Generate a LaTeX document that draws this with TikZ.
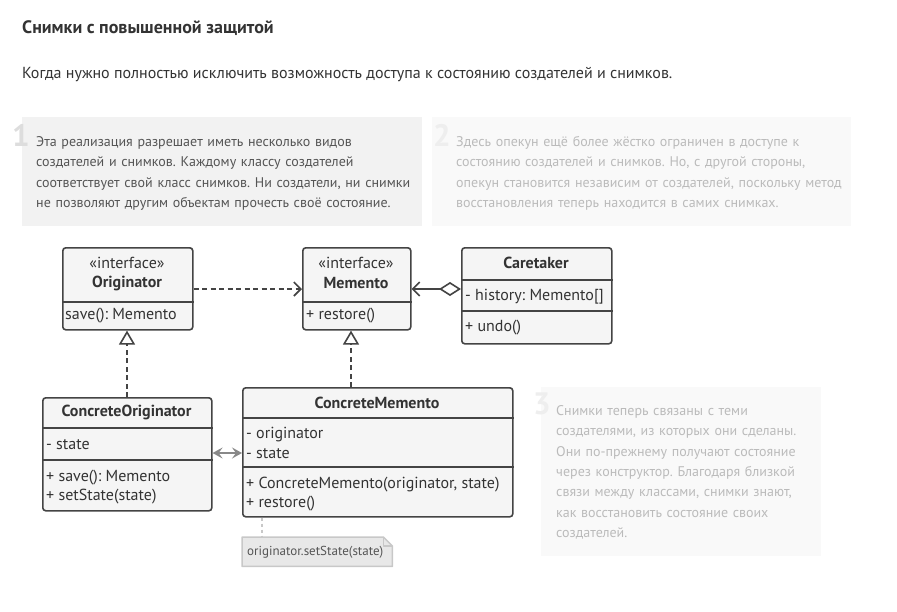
\documentclass[tikz,border=0pt]{standalone}
\usepackage{fontspec}
\setmainfont{PT Sans}
\usetikzlibrary{arrows.meta}
\definecolor{ink}{HTML}{333333}
\definecolor{umlline}{HTML}{444444}
\definecolor{umlfill}{HTML}{F5F5F5}
\definecolor{boxA}{HTML}{F2F2F2}
\definecolor{boxB}{HTML}{F9F9F9}
\definecolor{numA}{HTML}{DDDDDD}
\definecolor{numB}{HTML}{EEEEEE}
\definecolor{txtA}{HTML}{555555}
\definecolor{txtB}{HTML}{BBBBBB}
\definecolor{notefill}{HTML}{E8E8E8}
\definecolor{noteline}{HTML}{C8C8C8}
\definecolor{assoc}{HTML}{888888}
\frenchspacing
\begin{document}
\begin{tikzpicture}[x=1pt,y=-1pt,
  classbox/.style={draw=umlline, fill=umlfill, line width=1.6pt, rounded corners=3pt, inner sep=0pt, anchor=north west},
  sepline/.style={draw=umlline, line width=1.6pt},
  uml/.style={font=\fontsize{16}{19}\selectfont, text=ink, inner sep=0pt},
  umlb/.style={font=\fontsize{16}{19}\selectfont\bfseries, text=ink, inner sep=0pt},
  member/.style={uml, anchor=base west},
  para/.style={inner sep=0pt, anchor=base west, text width=420pt, align=left, font=\fontsize{14}{20.3}\selectfont\frenchspacing},
  bignum/.style={inner sep=0pt, anchor=base west, font=\fontsize{31}{31}\selectfont\bfseries},
  panel/.style={inner sep=0pt, anchor=north west},
  dep/.style={draw=umlline, line width=1.6pt, dash pattern=on 5pt off 3.5pt, -{Straight Barb[length=7pt,width=14pt,line width=1.6pt]}},
  impl/.style={draw=umlline, line width=1.6pt, dash pattern=on 5pt off 3.5pt, -{Triangle[open,length=14pt,width=16pt,line width=1.6pt]}},
  aggr/.style={draw=umlline, line width=1.6pt, {Diamond[open,length=22pt,width=14pt,line width=1.6pt]}-{Straight Barb[length=7pt,width=14pt,line width=1.6pt]}},
  bidir/.style={draw=assoc, line width=2pt, {Stealth[length=10pt,width=11pt,inset=4pt]}-{Stealth[length=10pt,width=11pt,inset=4pt]}},
  notelink/.style={draw=noteline, line width=1.6pt, dash pattern=on 3pt off 3pt}
]
\useasboundingbox (0,0) rectangle (897,611);
\fill[white] (0,0) rectangle (897,611);

% heading
\node[inner sep=0pt, anchor=base west, font=\fontsize{18}{21}\selectfont\bfseries, text=ink] (title) at (22,33) {Снимки с повышенной защитой};
\node[inner sep=0pt, anchor=base west, font=\fontsize{16}{19}\selectfont, text=ink] (subtitle) at (22,78.5) {Когда нужно полностью исключить возможность доступа к состоянию создателей и снимков.};

% panels
\node[panel, fill=boxA, minimum width=400pt, minimum height=109pt] (box1) at (22,117) {};
\node[bignum, text=numA] (n1) at (12,146) {1};
\node[para, text=txtA] (t1) at (36,146.5) {Эта реализация разрешает иметь несколько видов\\создателей и снимков. Каждому классу создателей\\соответствует свой класс снимков. Ни создатели, ни снимки\\не позволяют другим объектам прочесть своё состояние.};

\node[panel, fill=boxB, minimum width=419pt, minimum height=109pt] (box2) at (432,117) {};
\node[bignum, text=numB] (n2) at (433,146) {2};
\node[para, text=txtB] (t2) at (456,146.5) {Здесь опекун ещё более жёстко ограничен в доступе к\\состоянию создателей и снимков. Но, с другой стороны,\\опекун становится независим от создателей, поскольку метод\\восстановления теперь находится в самих снимках.};

\node[panel, fill=boxB, minimum width=280pt, minimum height=169pt] (box3) at (541,387) {};
\node[bignum, text=numB] (n3) at (533,414) {3};
\node[para, text=txtB] (t3) at (556,415.5) {Снимки теперь связаны с теми\\создателями, из которых они сделаны.\\Они по-прежнему получают состояние\\через конструктор. Благодаря близкой\\связи между классами, снимки знают,\\как восстановить состояние своих\\создателей.};

% Originator
\node[classbox, minimum width=130pt, minimum height=82pt] (orig) at (62,247) {};
\draw[sepline] (orig.west |- 0,302) -- (orig.east |- 0,302);
\node[uml] (origst) at (127,263) {«interface»};
\node[umlb] (origname) at (127,283) {Originator};
\node[member] (origm1) at (65,319) {save(): Memento};

% Memento
\node[classbox, minimum width=108pt, minimum height=82pt] (mem) at (302,247) {};
\draw[sepline] (mem.west |- 0,302) -- (mem.east |- 0,302);
\node[uml] (memst) at (356,263) {«interface»};
\node[umlb] (memname) at (356,283) {Memento};
\node[member] (memm1) at (306,319) {+ restore()};

% Caretaker
\node[classbox, minimum width=150pt, minimum height=96pt] (care) at (461,247) {};
\draw[sepline] (care.west |- 0,280) -- (care.east |- 0,280);
\draw[sepline] (care.west |- 0,311) -- (care.east |- 0,311);
\node[umlb] (carename) at (536,263) {Caretaker};
\node[member] (caref1) at (465,300) {- history: Memento[]};
\node[member] (carem1) at (465,331) {+ undo()};

% ConcreteOriginator
\node[classbox, minimum width=169pt, minimum height=113pt] (corig) at (42,397) {};
\draw[sepline] (corig.west |- 0,428) -- (corig.east |- 0,428);
\draw[sepline] (corig.west |- 0,460) -- (corig.east |- 0,460);
\node[umlb] (corigname) at (126.5,412) {ConcreteOriginator};
\node[member] (corigf1) at (46,449) {- state};
\node[member] (corigm1) at (46,481) {+ save(): Memento};
\node[member] (corigm2) at (46,500) {+ setState(state)};

% ConcreteMemento
\node[classbox, minimum width=270pt, minimum height=129pt] (cmem) at (242,387) {};
\draw[sepline] (cmem.west |- 0,418) -- (cmem.east |- 0,418);
\draw[sepline] (cmem.west |- 0,467) -- (cmem.east |- 0,467);
\node[umlb] (cmemname) at (377,403) {ConcreteMemento};
\node[member] (cmemf1) at (246,438) {- originator};
\node[member] (cmemf2) at (246,458) {- state};
\node[member] (cmemm1) at (246,488) {+ ConcreteMemento(originator, state)};
\node[member] (cmemm2) at (246,507) {+ restore()};

% note
\node[inner sep=0pt, anchor=north west, minimum width=150pt, minimum height=29pt] (note) at (242,537) {};
\filldraw[fill=notefill, draw=noteline, line width=1.5pt, line join=round]
  (note.north west) -- ([xshift=-9pt]note.north east) -- ([yshift=-9pt]note.north east) -- (note.south east) -- (note.south west) -- cycle;
\draw[draw=noteline, line width=1.5pt, line join=round]
  ([xshift=-9pt]note.north east) -- ([xshift=-9pt,yshift=-9pt]note.north east) -- ([yshift=-9pt]note.north east);
\node[inner sep=0pt, anchor=base west, font=\fontsize{13}{15}\selectfont, text=txtA] (notetext) at (247,555.5) {originator.setState(state)};

% connectors
\draw[dep] (orig.east |- 0,289) -- (mem.west |- 0,289);
\draw[aggr] (care.west |- 0,289) -- (mem.east |- 0,289);
\draw[impl] (corig.north -| 127,0) -- (orig.south -| 127,0);
\draw[impl] (cmem.north -| 351,0) -- (mem.south -| 351,0);
\draw[bidir] (corig.east |- 0,453) -- (cmem.west |- 0,453);
\draw[notelink] (cmem.south -| 262,0) -- (note.north -| 262,0);
\end{tikzpicture}
\end{document}
